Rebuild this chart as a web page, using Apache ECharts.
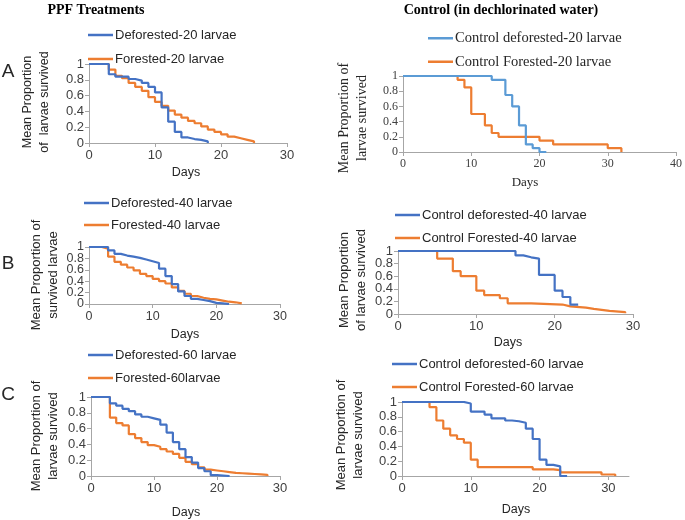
<!DOCTYPE html>
<html><head><meta charset="utf-8">
<script src="https://cdn.jsdelivr.net/npm/echarts@6/dist/echarts.min.js"></script>
<style>html,body{margin:0;padding:0;background:#fff}#c{width:685px;height:520px}</style>
</head><body><div id="c"></div>
<script>
// ---- data: [day, mean proportion survived] ----
const deforested20 = [[0,1],[3,0.87],[4,0.84],[6,0.81],[7,0.79],[8,0.76],[9,0.71],[10,0.64],[11,0.45],[12,0.27],[13,0.14],[14,0.07],[15,0.05],[16,0.04],[17,0.02],[18,0]];
const forested20 = [[0,1],[3,0.93],[4,0.85],[5,0.82],[6,0.76],[7,0.71],[8,0.66],[9,0.58],[10,0.52],[11,0.47],[12,0.41],[13,0.36],[14,0.32],[15,0.28],[16,0.25],[17,0.21],[18,0.17],[19,0.14],[20,0.11],[21,0.08],[22,0.06],[23,0.04],[24,0.02],[25,0]];
const ctrlDeforested20 = [[0,1],[13,0.95],[15,0.75],[16,0.6],[17,0.35],[18,0.1],[19,0.05],[20,0],[21,0]];
const ctrlForested20 = [[0,1],[8,0.95],[9,0.85],[10,0.5],[12,0.35],[13,0.25],[14,0.2],[20,0.15],[22,0.1],[30,0.05],[32,0]];
const deforested40 = [[0,1],[3,0.94],[4,0.88],[5,0.85],[6,0.83],[7,0.81],[8,0.78],[9,0.75],[10,0.72],[11,0.62],[12,0.49],[13,0.35],[14,0.22],[15,0.14],[16,0.09],[17,0.07],[18,0.05],[19,0.02],[20,0.01],[21,0],[22,0]];
const forested40 = [[0,1],[2,0.97],[3,0.83],[4,0.74],[5,0.69],[6,0.64],[7,0.59],[8,0.53],[9,0.49],[10,0.44],[11,0.4],[12,0.36],[13,0.29],[14,0.23],[15,0.18],[16,0.14],[17,0.11],[18,0.09],[19,0.08],[20,0.06],[21,0.04],[22,0.03],[23,0.01],[24,0]];
const ctrlDeforested40 = [[0,1],[15,0.93],[16,0.9],[17,0.88],[18,0.62],[20,0.37],[21,0.27],[22,0.15],[23,0.15]];
const ctrlForested40 = [[0,1],[5,0.88],[7,0.68],[8,0.6],[10,0.37],[11,0.3],[13,0.25],[14,0.17],[17,0.15],[21,0.12],[22,0.1],[24,0.08],[25,0.05],[27,0.03],[29,0.01]];
const deforested60 = [[0,1],[3,0.92],[4,0.89],[5,0.85],[6,0.82],[7,0.78],[8,0.75],[9,0.73],[10,0.71],[11,0.65],[12,0.55],[13,0.43],[14,0.34],[15,0.24],[16,0.17],[17,0.1],[18,0.06],[19,0.01],[20,0],[22,0]];
const forested60 = [[0,1],[3,0.74],[4,0.67],[5,0.64],[6,0.53],[7,0.48],[8,0.43],[9,0.39],[10,0.37],[11,0.34],[12,0.31],[13,0.28],[14,0.23],[15,0.18],[16,0.15],[17,0.11],[18,0.08],[19,0.07],[20,0.06],[21,0.05],[22,0.04],[23,0.035],[24,0.03],[25,0.025],[26,0.02],[27,0.015],[28,0]];
const ctrlDeforested60 = [[0,1],[9,0.98],[10,0.87],[12,0.83],[13,0.78],[15,0.75],[16,0.74],[17,0.72],[18,0.64],[19,0.5],[20,0.22],[21,0.15],[22,0.13],[23,0],[24,0]];
const ctrlForested60 = [[0,1],[4,0.93],[5,0.75],[6,0.64],[7,0.55],[8,0.5],[9,0.45],[10,0.22],[11,0.12],[19,0.09],[22,0.08],[23,0.05],[29,0.02],[31,0]];

// tick label values (split over two label layers so dense panels keep every label)
const yTicksA = [0, 0.4, 0.8];
const yTicksB = [0.2, 0.6, 1];

const seriesNames = [
  ['Deforested-20 larvae','Forested-20 larvae'],
  ['Control deforested-20 larvae','Control Forested-20 larvae'],
  ['Deforested-40 larvae','Forested-40 larvae'],
  ['Control deforested-40 larvae','Control Forested-40 larvae'],
  ['Deforested-60 larvae','Forested-60larvae'],
  ['Control deforested-60 larvae','Control Forested-60 larvae']
];
const seriesData = [
  [deforested20, forested20],
  [ctrlDeforested20, ctrlForested20],
  [deforested40, forested40],
  [ctrlDeforested40, ctrlForested40],
  [deforested60, forested60],
  [ctrlDeforested60, ctrlForested60]
];
const xMax = [30, 40, 30, 30, 30, 33];

// ---- layout ----
const SANS = 'Liberation Sans, Arial, sans-serif';
const SERIF = 'Liberation Serif, Times New Roman, serif';
const panels = [
  {grid:{left:89,top:64,width:198,height:79}, font:SANS, tick:13, leg:{x:88,y1:35,y2:59,fs:13}},
  {grid:{left:403,top:76,width:276,height:76}, font:SERIF, tick:12, leg:{x:428,y1:38,y2:61,fs:14.5}},
  {grid:{left:89,top:247,width:191,height:57}, font:SANS, tick:12.5, leg:{x:84,y1:203,y2:225,fs:13}},
  {grid:{left:398,top:251,width:235,height:63}, font:SANS, tick:13, leg:{x:395,y1:215,y2:238,fs:13}},
  {grid:{left:91,top:397,width:189,height:79}, font:SANS, tick:13, leg:{x:88,y1:355,y2:378,fs:13}},
  {grid:{left:402,top:402,width:227,height:74}, font:SANS, tick:13, leg:{x:392,y1:364,y2:387,fs:13}}
];
const BLUE = '#4472C4', LIGHTBLUE = '#5B9BD5', ORANGE = '#ED7D31';
const AXIS = '#a6a6a6', TXT = '#404040';

const grid = [], xAxis = [], yAxis = [], yAxis2 = [], series = [], legend = [];
panels.forEach((p, i) => {
  grid.push(Object.assign({containLabel:false}, p.grid));
  xAxis.push({
    type:'value', gridIndex:i, min:0, max:xMax[i], interval:10,
    axisLine:{show:true, onZero:false, lineStyle:{color:AXIS, width:1}},
    axisTick:{show:true, length:4, lineStyle:{color:AXIS}},
    splitLine:{show:false},
    axisLabel:{margin:6, fontSize:p.tick, fontFamily:p.font, color:TXT, hideOverlap:false,
      showMinLabel:true, showMaxLabel: xMax[i] % 10 === 0}
  });
  const yBase = {
    type:'value', gridIndex:i, min:0, max:1, interval:0.2, position:'left', offset:0,
    splitLine:{show:false}
  };
  yAxis.push(Object.assign({}, yBase, {
    axisLine:{show:true, lineStyle:{color:AXIS, width:1}},
    axisTick:{show:true, length:4, lineStyle:{color:AXIS}},
    axisLabel:{margin:5, fontSize:p.tick, fontFamily:p.font, color:TXT, hideOverlap:false,
      customValues:yTicksA, showMinLabel:true, showMaxLabel:true}
  }));
  yAxis2.push(Object.assign({}, yBase, {
    axisLine:{show:false}, axisTick:{show:false},
    axisLabel:{margin:5, fontSize:p.tick, fontFamily:p.font, color:TXT, hideOverlap:false,
      customValues:yTicksB, showMinLabel:true, showMaxLabel:true}
  }));
  const cols = [i === 1 ? LIGHTBLUE : BLUE, ORANGE];
  seriesNames[i].forEach((nm, k) => {
    series.push({
      name:nm, type:'line', step:'end', xAxisIndex:i, yAxisIndex:i,
      data:seriesData[i][k], showSymbol:false, symbol:'none', animation:false,
      lineStyle:{width:2.2, color:cols[k]}, itemStyle:{color:cols[k]}, z: k===0?3:2
    });
  });
  const L = p.leg;
  legend.push({
    orient:'vertical', left:L.x, top:L.y1 - L.fs/2, padding:0,
    itemGap:(L.y2 - L.y1) - L.fs, itemWidth:25, itemHeight:2.5, icon:'rect',
    selectedMode:false, data:seriesNames[i],
    textStyle:{fontSize:L.fs, fontFamily:p.font, color:'#262626', padding:[0,0,0,-3]}
  });
});

function txt(x, y, s, fs, font, extra) {
  return Object.assign({type:'text', x:x, y:y, style:{text:s, fontSize:fs, fontFamily:font, fill:'#262626', align:'center', verticalAlign:'middle', lineHeight:fs+4}}, extra||{});
}
const graphic = [
  txt(96, 10, 'PPF Treatments', 14, SERIF, {style:{text:'PPF Treatments', fontSize:14, fontFamily:SERIF, fontWeight:'bold', fill:'#000', align:'center', verticalAlign:'middle'}}),
  txt(501, 10, 'Control (in dechlorinated water)', 14, SERIF, {style:{text:'Control (in dechlorinated water)', fontSize:14, fontFamily:SERIF, fontWeight:'bold', fill:'#000', align:'center', verticalAlign:'middle'}}),
  txt(8, 72, 'A', 19, SANS), txt(8, 264, 'B', 19, SANS), txt(8, 395, 'C', 19, SANS),
  txt(186, 173, 'Days', 12.5, SANS), txt(525, 183, 'Days', 13, SERIF),
  txt(185, 335, 'Days', 12.5, SANS), txt(508, 343, 'Days', 12.5, SANS),
  txt(186, 513, 'Days', 12.5, SANS), txt(516, 510, 'Days', 12.5, SANS),
  txt(36, 102, 'Mean Proportion\nof  larvae survived', 12.5, SANS, {rotation:Math.PI/2}),
  txt(353, 118, 'Mean Proportion of\nlarvae survived', 14, SERIF, {rotation:Math.PI/2}),
  txt(45, 275, 'Mean Proportion of\nsurvived larvae', 13, SANS, {rotation:Math.PI/2}),
  txt(353, 280, 'Mean Proportion\nof larvae survived', 13, SANS, {rotation:Math.PI/2}),
  txt(45, 436, 'Mean Proportion of\nlarvae survived', 13, SANS, {rotation:Math.PI/2}),
  txt(350, 435, 'Mean Proportion of\nlarvae survived', 13, SANS, {rotation:Math.PI/2})
];

const chart = echarts.init(document.getElementById('c'), null, {renderer:'canvas'});
chart.setOption({animation:false, backgroundColor:'#fff', grid, xAxis, yAxis: yAxis.concat(yAxis2), series, legend, graphic});
</script></body></html>
